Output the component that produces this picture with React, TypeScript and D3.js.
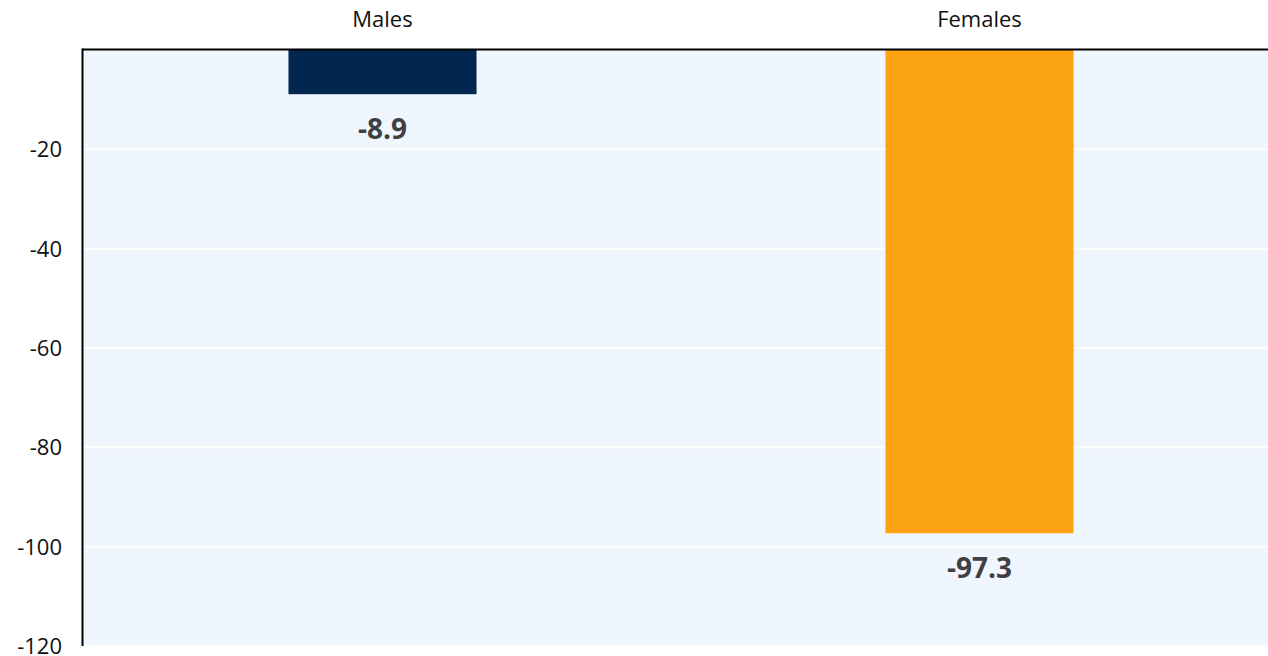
import React from "react";
import * as d3 from "d3";

const categories = ["Males", "Females"];
const values = [-8.9, -97.3];
const barColors = ["#02264F", "#FBA313"];
const yTicks = [-20, -40, -60, -80, -100, -120];

const W = 1268;
const H = 656;
const left = 83;
const top = 50;
const bottom = 646;

export default function App() {
  const y = d3.scaleLinear().domain([0, -120]).range([top, bottom]);
  const x = d3
    .scaleBand<string>()
    .domain(categories)
    .range([84, 1278])
    .paddingInner(0.685)
    .paddingOuter(0.3425);
  const font = "'Open Sans', 'Noto Sans', sans-serif";
  return (
    <svg
      width={W}
      height={H}
      style={{ position: "absolute", left: 0, top: 0, display: "block" }}
    >
      <rect x={left} y={top} width={W - left} height={bottom - top} fill="#F0F6FD" />
      {yTicks.map((t) => (
        <line key={"g" + t} x1={left} x2={W} y1={y(t)} y2={y(t)} stroke="#ffffff" strokeWidth={2} />
      ))}
      {categories.map((c, i) => (
        <rect
          key={c}
          x={x(c)}
          y={y(0)}
          width={x.bandwidth()}
          height={y(values[i]) - y(0)}
          fill={barColors[i]}
        />
      ))}
      {categories.map((c, i) => (
        <text
          key={"v" + c}
          x={(x(c) as number) + x.bandwidth() / 2}
          y={y(values[i]) + 45}
          textAnchor="middle"
          fontFamily={font}
          fontWeight="bold"
          fontSize={28}
          fill="#404040"
        >
          {values[i].toFixed(1)}
        </text>
      ))}
      {categories.map((c) => (
        <text
          key={"c" + c}
          x={(x(c) as number) + x.bandwidth() / 2}
          y={27}
          textAnchor="middle"
          fontFamily={font}
          fontSize={22}
          fill="#111"
        >
          {c}
        </text>
      ))}
      {yTicks.map((t) => (
        <text
          key={"t" + t}
          x={62}
          y={y(t) + 8}
          textAnchor="end"
          fontFamily={font}
          fontSize={22}
          fill="#111"
        >
          {t}
        </text>
      ))}
      <line x1={left - 1} x2={W} y1={top - 0.5} y2={top - 0.5} stroke="#000" strokeWidth={2} />
      <line x1={left - 0.5} x2={left - 0.5} y1={top - 1.5} y2={bottom} stroke="#000" strokeWidth={2} />
    </svg>
  );
}
